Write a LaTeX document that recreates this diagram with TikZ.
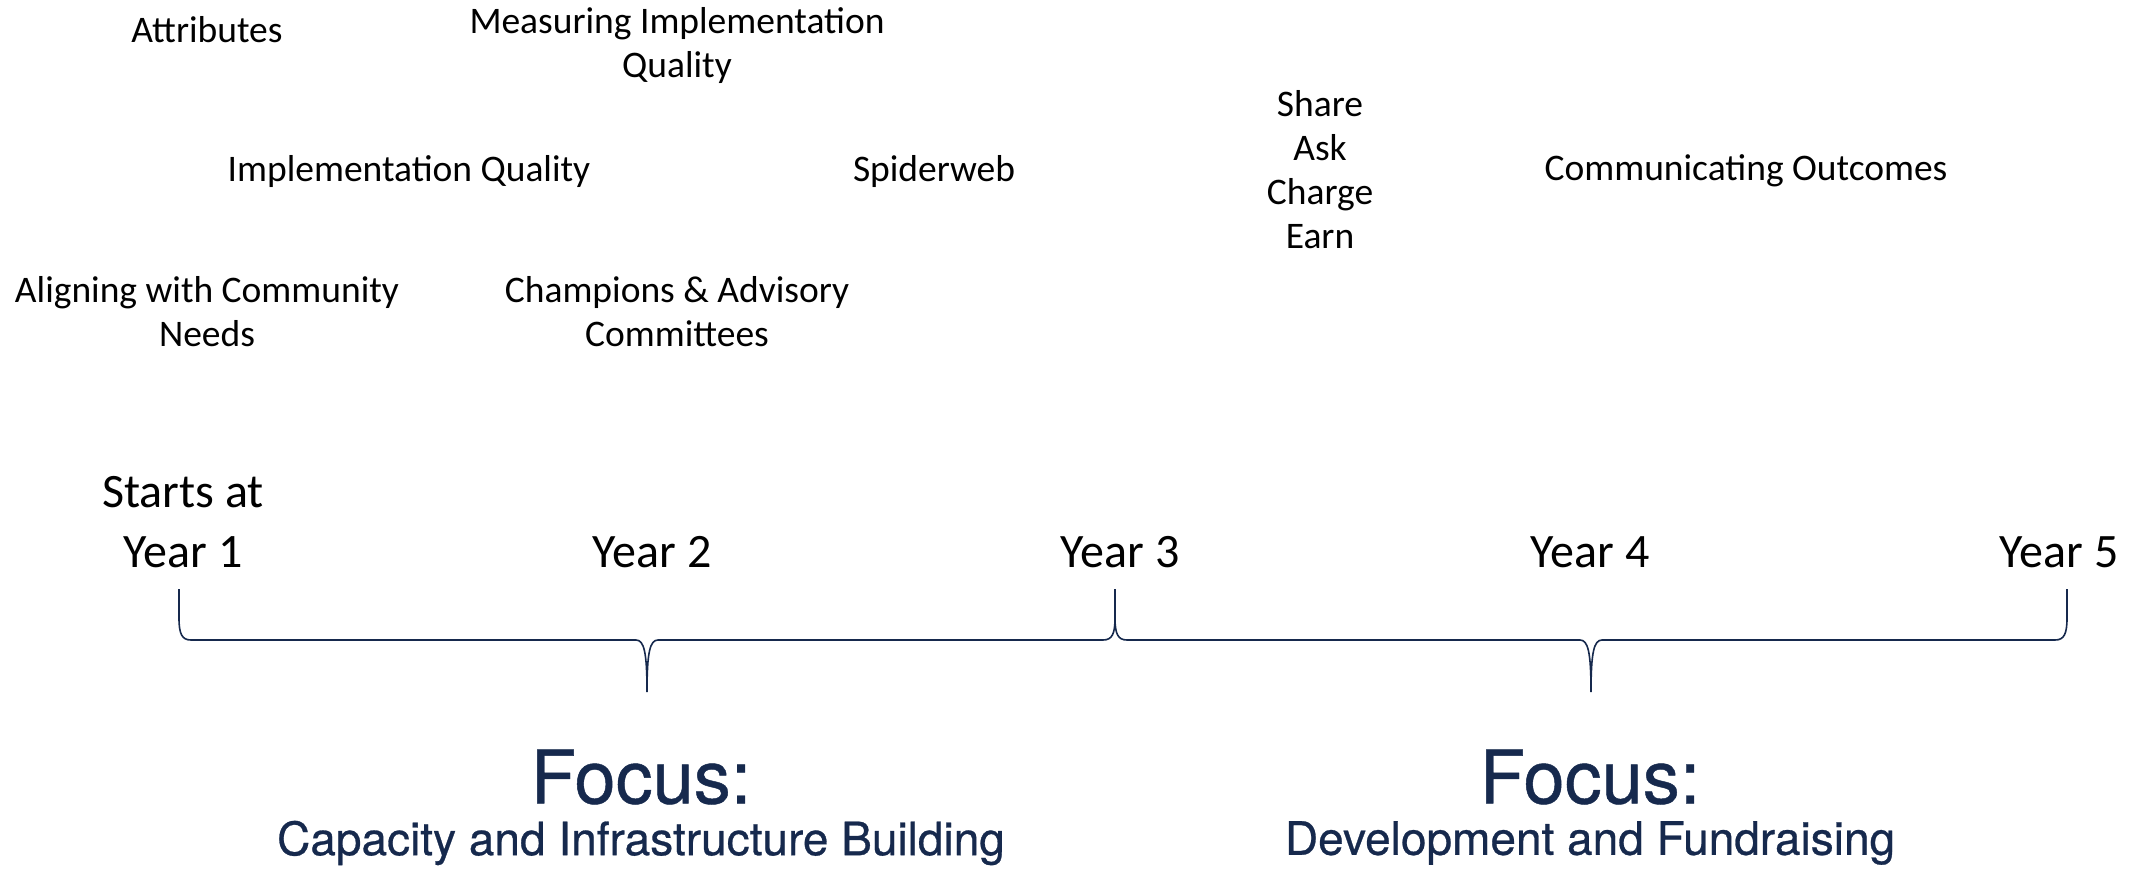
\documentclass[tikz,border=0pt]{standalone}
\usepackage{fontspec}
\setmainfont{Carlito}
\newfontfamily\focusfont[FakeBold=0.6]{TeX Gyre Heros}
\definecolor{navy}{HTML}{16294D}
\begin{document}
\begin{tikzpicture}[x=1pt,y=-1pt,
  lbl/.style={align=center,inner sep=0pt,font=\fontsize{37.5}{44}\selectfont},
  yr/.style={align=center,inner sep=0pt,font=\fontsize{48}{60}\selectfont},
  focus/.style={inner sep=0pt,text=navy,font=\focusfont\fontsize{74}{80}\selectfont},
  focussub/.style={inner sep=0pt,text=navy,font=\focusfont\fontsize{46}{50}\selectfont},
  bracepath/.style={draw=navy,line width=1.6pt}]
\useasboundingbox (0,0) rectangle (2131,873);
\node[lbl] (attr) at (207,30) {Attributes};
\node[lbl] (miq) at (677,45) {Measuring Implementation\\Quality};
\node[lbl] (iq) at (409,171) {Implementation Quality};
\node[lbl] (spider) at (934,171) {Spiderweb};
\node[lbl] (share) at (1320,170) {Share\\Ask\\Charge\\Earn};
\node[lbl] (comm) at (1746,171) {Communicating Outcomes};
\node[lbl] (align) at (207,312) {Aligning with Community\\Needs};
\node[lbl] (champ) at (677,312) {Champions \& Advisory\\Committees};
\node[yr] (y1) at (183,522) {Starts at\\Year 1};
\node[yr] (y2) at (652,552) {Year 2};
\node[yr] (y3) at (1120,552) {Year 3};
\node[yr] (y4) at (1590,552) {Year 4};
\node[yr] (y5) at (2059,552) {Year 5};
\coordinate (b1s) at (179,589);
\coordinate (b1m) at (647,692);
\coordinate (b12) at (1115,589);
\coordinate (b2m) at (1591,692);
\coordinate (b2e) at (2067,589);
\draw[bracepath] (b1s) -- (179,618) .. controls (179,634) and (182,640) .. (191,640)
  -- (636,640) .. controls (644,640) and (647,652) .. (b1m)
  .. controls (647,652) and (650,640) .. (658,640)
  -- (1103,640) .. controls (1112,640) and (1115,634) .. (1115,618) -- (b12);
\draw[bracepath] (b12) -- (1115,618) .. controls (1115,634) and (1118,640) .. (1127,640)
  -- (1580,640) .. controls (1588,640) and (1591,652) .. (b2m)
  .. controls (1591,652) and (1594,640) .. (1602,640)
  -- (2055,640) .. controls (2064,640) and (2067,634) .. (2067,618) -- (b2e);
\node[focus] (f1) at (641,777) {Focus:};
\node[focussub] (f1s) at (641,843) {Capacity and Infrastructure Building};
\node[focus] (f2) at (1590,777) {Focus:};
\node[focussub] (f2s) at (1590,843) {Development and Fundraising};
\end{tikzpicture}
\end{document}
